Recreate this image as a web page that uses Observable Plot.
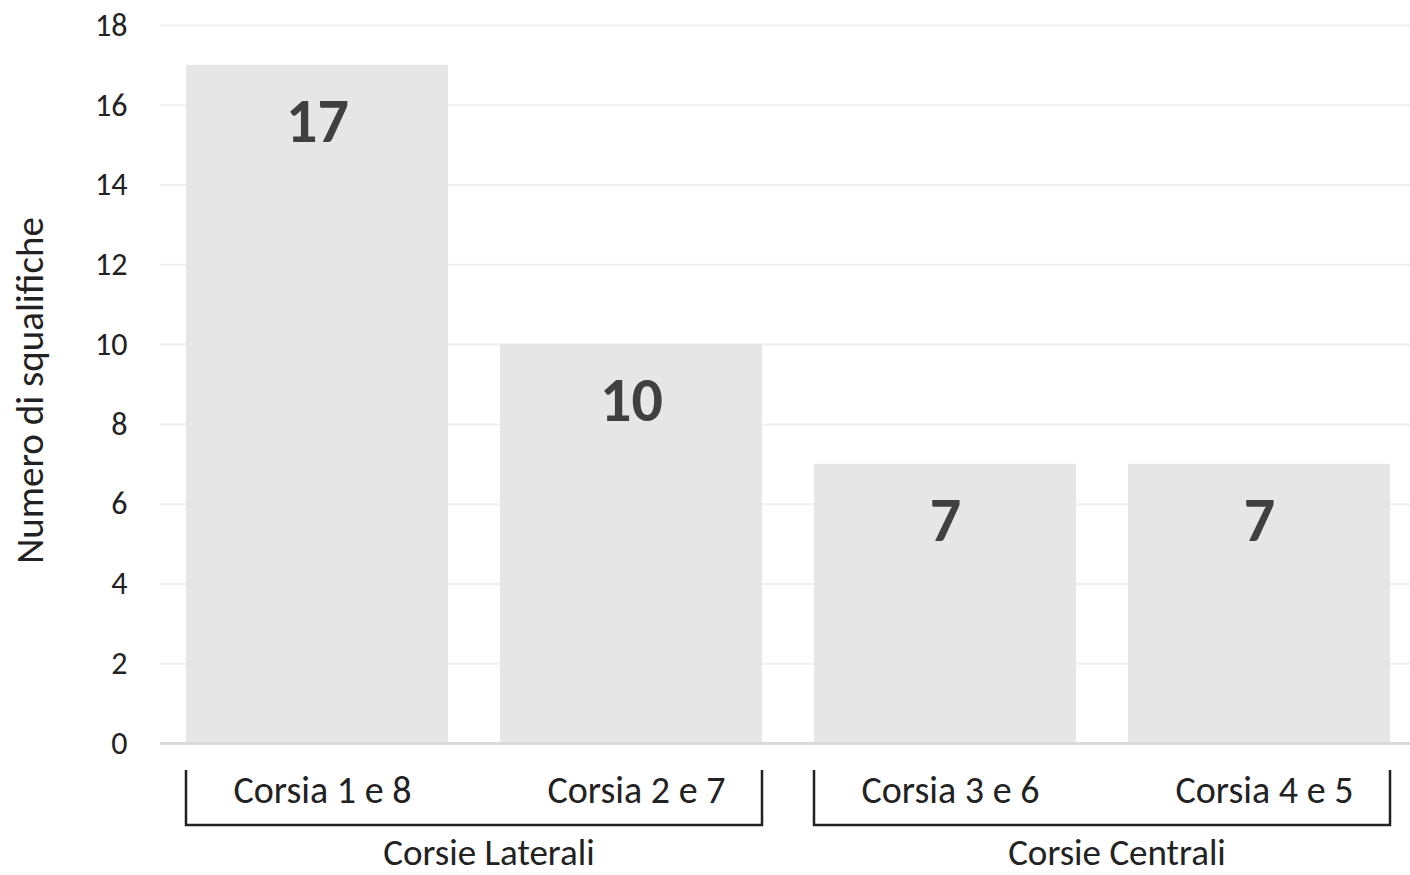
<!DOCTYPE html>
<html>
<head>
<meta charset="utf-8">
<script src="https://cdn.jsdelivr.net/npm/d3@7"></script>
<script src="https://cdn.jsdelivr.net/npm/@observablehq/plot@0.6"></script>
<style>
  html, body { margin: 0; padding: 0; background: #ffffff; }
  #chart svg { display: block; }
</style>
</head>
<body>
<div id="chart"></div>
<script>
// ---- data ----
const categories = ["Corsia 1 e 8", "Corsia 2 e 7", "Corsia 3 e 6", "Corsia 4 e 5"];
const values = [17, 10, 7, 7];
const groups = ["Corsie Laterali", "Corsie Laterali", "Corsie Centrali", "Corsie Centrali"];
const groupNames = ["Corsie Laterali", "Corsie Centrali"];
const yTicks = [0, 2, 4, 6, 8, 10, 12, 14, 16, 18];
const yLabel = "Numero di squalifiche";

const data = categories.map((c, i) => ({category: c, value: values[i], group: groups[i]}));

const FONT = "Carlito, Lato, 'Open Sans', sans-serif";
const W = 1410, H = 875;
const mL = 160, mR = 0, mT = 25, mB = 132;

const plot = Plot.plot({
  width: W,
  height: H,
  marginLeft: mL,
  marginRight: mR,
  marginTop: mT,
  marginBottom: mB,
  style: {fontFamily: FONT, background: "#ffffff", color: "#222"},
  x: {domain: categories, range: [186, 1390], paddingInner: 0.166, paddingOuter: 0, axis: null},
  y: {domain: [0, 18], axis: null},
  marks: [
    Plot.ruleY(yTicks.filter(d => d > 0), {stroke: "#efefef", strokeWidth: 2}),
    Plot.barY(data, {x: "category", y: "value", fill: "#e7e6e6"}),
    Plot.ruleY([0], {stroke: "#d9d9d9", strokeWidth: 3}),
    Plot.text(yTicks, {x: null, y: d => d, frameAnchor: "left", dx: -33, textAnchor: "end",
      text: d => String(d), fontSize: 32, fill: "#222"}),
    Plot.text(data, {x: "category", y: "value", text: d => String(d.value), dy: 57,
      fontSize: 62, fontWeight: "bold", fill: "#404040"}),
    Plot.text(data, {x: "category", y: 0, text: "category", dy: 47, dx: 5, fontSize: 38, fill: "#222"}),
    Plot.text([yLabel], {frameAnchor: "left", dx: -130, dy: 6, rotate: -90, textAnchor: "middle",
      fontSize: 39, fill: "#222"})
  ]
});

// group brackets, positioned from the plot's own x scale
const xs = plot.scale("x");
const bw = xs.bandwidth;
const x0 = c => xs.apply(c);
const yBase = H - mB;
const svg = d3.select(plot);
const gB = svg.append("g");
groupNames.forEach(g => {
  const cats = categories.filter((c, i) => groups[i] === g);
  const left = x0(cats[0]);
  const right = x0(cats[cats.length - 1]) + bw;
  gB.append("path")
    .attr("d", `M${left},${yBase + 27}V${yBase + 82}H${right}V${yBase + 27}`)
    .attr("fill", "none").attr("stroke", "#222").attr("stroke-width", 2.5);
  gB.append("text")
    .attr("x", (left + right) / 2 + 15)
    .attr("y", yBase + 113)
    .attr("text-anchor", "middle")
    .attr("dominant-baseline", "middle")
    .attr("font-family", FONT)
    .attr("font-size", 37)
    .attr("fill", "#222")
    .text(g);
});

document.getElementById("chart").append(plot);
</script>
</body>
</html>
